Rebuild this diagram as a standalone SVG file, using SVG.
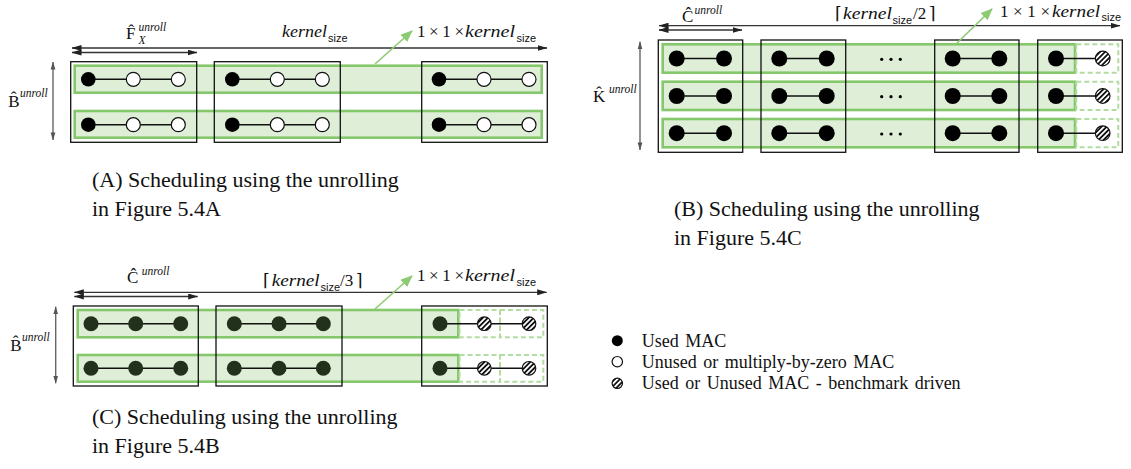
<svg xmlns="http://www.w3.org/2000/svg" width="1131" height="469" viewBox="0 0 1131 469">
<style>
.box{fill:none;stroke:#111;stroke-width:1.3}
.band{fill:#dfeed7;stroke:#85c76b;stroke-width:2.6}
.dash{fill:none;stroke:#b2dca2;stroke-width:2;stroke-dasharray:5 3}
.wire{stroke:#111;stroke-width:1.6}
.full{fill:#000}
.dark{fill:#22311b}
.empty{fill:#fff;stroke:#111;stroke-width:1.2}
.hat{fill:url(#hatch);stroke:#111;stroke-width:1.2}
.hline{stroke:#333;stroke-width:1.3;fill:none}
.vline{stroke:#666;stroke-width:1.4;fill:none}
.gline{stroke:#8ccb72;stroke-width:1.6;fill:none}
.m{font-family:"Liberation Serif","DejaVu Serif",serif;font-size:17px;fill:#111}
.mi{font-family:"Liberation Serif","DejaVu Serif",serif;font-style:italic;font-size:17px;fill:#111}
.sup{font-family:"Liberation Serif","DejaVu Serif",serif;font-style:italic;font-size:11.5px;fill:#111}
.sz{font-family:"Liberation Sans","DejaVu Sans",sans-serif;font-size:11px;fill:#111}
.br{font-family:"DejaVu Serif",serif;font-size:17px;fill:#111}
.cap{font-family:"Liberation Serif",serif;font-size:22px;fill:#111}
.leg{font-family:"Liberation Serif",serif;font-size:18px;word-spacing:2px;fill:#111}
</style>
<defs>
<pattern id="hatch" patternUnits="userSpaceOnUse" width="3.6" height="3.6" patternTransform="rotate(45)">
<rect width="3.6" height="3.6" fill="#fff"/>
<rect width="1.8" height="3.6" fill="#111"/>
</pattern>
<marker id="ak" viewBox="0 0 10 6" refX="9.5" refY="3" markerWidth="10" markerHeight="6" markerUnits="userSpaceOnUse" orient="auto-start-reverse"><path d="M0,0 L10,3 L0,6 z" fill="#222"/></marker>
<marker id="ag" viewBox="0 0 10 6" refX="9.5" refY="3" markerWidth="8" markerHeight="6" markerUnits="userSpaceOnUse" orient="auto-start-reverse"><path d="M0,0 L10,3 L0,6 z" fill="#555"/></marker>
<marker id="agr" viewBox="0 0 12 10" refX="11" refY="5" markerWidth="12" markerHeight="10" markerUnits="userSpaceOnUse" orient="auto"><path d="M0,0 L12,5 L0,10 z" fill="#8ccb72"/></marker>
</defs>

<!-- Panel A -->
<g id="panelA">
  <rect class="band" x="74.7" y="65.7" width="467" height="27"/>
  <rect class="band" x="74.7" y="111" width="467" height="26.7"/>
  <rect class="box" x="70.7" y="61.7" width="126" height="80.6"/>
  <rect class="box" x="214.3" y="61.7" width="126" height="80.6"/>
  <rect class="box" x="421.7" y="61.7" width="125.6" height="80.6"/>
  <g id="A-row1">
    <line class="wire" x1="88.3" y1="79.3" x2="178.3" y2="79.3"/>
    <line class="wire" x1="232.3" y1="79.3" x2="322.3" y2="79.3"/>
    <line class="wire" x1="439" y1="79.3" x2="529" y2="79.3"/>
    <circle class="full" cx="88.3" cy="79.3" r="7.3"/><circle class="empty" cx="133.3" cy="79.3" r="7"/><circle class="empty" cx="178.3" cy="79.3" r="7"/>
    <circle class="full" cx="232.3" cy="79.3" r="7.3"/><circle class="empty" cx="277.3" cy="79.3" r="7"/><circle class="empty" cx="322.3" cy="79.3" r="7"/>
    <circle class="full" cx="439" cy="79.3" r="7.3"/><circle class="empty" cx="484" cy="79.3" r="7"/><circle class="empty" cx="529" cy="79.3" r="7"/>
  </g>
  <g id="A-row2">
    <line class="wire" x1="88.3" y1="124.7" x2="178.3" y2="124.7"/>
    <line class="wire" x1="232.3" y1="124.7" x2="322.3" y2="124.7"/>
    <line class="wire" x1="439" y1="124.7" x2="529" y2="124.7"/>
    <circle class="full" cx="88.3" cy="124.7" r="7.3"/><circle class="empty" cx="133.3" cy="124.7" r="7"/><circle class="empty" cx="178.3" cy="124.7" r="7"/>
    <circle class="full" cx="232.3" cy="124.7" r="7.3"/><circle class="empty" cx="277.3" cy="124.7" r="7"/><circle class="empty" cx="322.3" cy="124.7" r="7"/>
    <circle class="full" cx="439" cy="124.7" r="7.3"/><circle class="empty" cx="484" cy="124.7" r="7"/><circle class="empty" cx="529" cy="124.7" r="7"/>
  </g>
  <text class="m" x="126" y="39">F̂</text>
  <text class="sup" x="138.5" y="31">unroll</text>
  <text class="sup" x="138.5" y="44">X</text>
  <text class="mi" x="282" y="37" textLength="45" lengthAdjust="spacingAndGlyphs">kernel</text>
  <text class="sz" x="328" y="42">size</text>
  <text class="m" x="417" y="37" textLength="47" lengthAdjust="spacing">1×1×</text>
  <text class="mi" x="465" y="37" textLength="50" lengthAdjust="spacingAndGlyphs">kernel</text>
  <text class="sz" x="516.5" y="42">size</text>
  <text class="m" x="8.3" y="106.7">B̂</text>
  <text class="sup" x="20" y="97">unroll</text>
</g>

<!-- Panel B -->
<g id="panelB">
  <rect class="band" x="662.7" y="44.3" width="412.3" height="28.4"/>
  <rect class="band" x="662.7" y="81.7" width="412.3" height="28.3"/>
  <rect class="band" x="662.7" y="119" width="412.3" height="28.3"/>
  <rect class="dash" x="1076.3" y="44.3" width="42" height="28.4"/>
  <rect class="dash" x="1076.3" y="81.7" width="42" height="28.3"/>
  <rect class="dash" x="1076.3" y="119" width="42" height="28.3"/>
  <rect class="box" x="658.3" y="40" width="84.4" height="112.3"/>
  <rect class="box" x="761" y="40" width="84.7" height="112.3"/>
  <rect class="box" x="934.7" y="40" width="84.3" height="112.3"/>
  <rect class="box" x="1037.7" y="40" width="84.6" height="112.3"/>
  <g id="B-rows">
    <line class="wire" x1="676.7" y1="58.5" x2="724" y2="58.5"/><line class="wire" x1="779.3" y1="58.5" x2="826.7" y2="58.5"/><line class="wire" x1="952.7" y1="58.5" x2="999.3" y2="58.5"/><line class="wire" x1="1056" y1="58.5" x2="1102.7" y2="58.5"/>
    <line class="wire" x1="676.7" y1="96" x2="724" y2="96"/><line class="wire" x1="779.3" y1="96" x2="826.7" y2="96"/><line class="wire" x1="952.7" y1="96" x2="999.3" y2="96"/><line class="wire" x1="1056" y1="96" x2="1102.7" y2="96"/>
    <line class="wire" x1="676.7" y1="133.2" x2="724" y2="133.2"/><line class="wire" x1="779.3" y1="133.2" x2="826.7" y2="133.2"/><line class="wire" x1="952.7" y1="133.2" x2="999.3" y2="133.2"/><line class="wire" x1="1056" y1="133.2" x2="1102.7" y2="133.2"/>
    <circle class="full" cx="676.7" cy="58.5" r="8"/><circle class="full" cx="724" cy="58.5" r="8"/><circle class="full" cx="779.3" cy="58.5" r="8"/><circle class="full" cx="826.7" cy="58.5" r="8"/><circle class="full" cx="952.7" cy="58.5" r="8"/><circle class="full" cx="999.3" cy="58.5" r="8"/><circle class="full" cx="1056" cy="58.5" r="8"/><circle class="hat" cx="1102.7" cy="58.5" r="7.3"/>
    <circle class="full" cx="676.7" cy="96" r="8"/><circle class="full" cx="724" cy="96" r="8"/><circle class="full" cx="779.3" cy="96" r="8"/><circle class="full" cx="826.7" cy="96" r="8"/><circle class="full" cx="952.7" cy="96" r="8"/><circle class="full" cx="999.3" cy="96" r="8"/><circle class="full" cx="1056" cy="96" r="8"/><circle class="hat" cx="1102.7" cy="96" r="7.3"/>
    <circle class="full" cx="676.7" cy="133.2" r="8"/><circle class="full" cx="724" cy="133.2" r="8"/><circle class="full" cx="779.3" cy="133.2" r="8"/><circle class="full" cx="826.7" cy="133.2" r="8"/><circle class="full" cx="952.7" cy="133.2" r="8"/><circle class="full" cx="999.3" cy="133.2" r="8"/><circle class="full" cx="1056" cy="133.2" r="8"/><circle class="hat" cx="1102.7" cy="133.2" r="7.3"/>
    <circle class="full" cx="881.7" cy="59.3" r="1.6"/><circle class="full" cx="891" cy="59.3" r="1.6"/><circle class="full" cx="900.3" cy="59.3" r="1.6"/>
    <circle class="full" cx="881.7" cy="96.7" r="1.6"/><circle class="full" cx="891" cy="96.7" r="1.6"/><circle class="full" cx="900.3" cy="96.7" r="1.6"/>
    <circle class="full" cx="881.7" cy="134" r="1.6"/><circle class="full" cx="891" cy="134" r="1.6"/><circle class="full" cx="900.3" cy="134" r="1.6"/>
  </g>
  <text class="m" x="682" y="22">Ĉ</text>
  <text class="sup" x="694.5" y="13.5">unroll</text>
  <text class="br" x="835" y="18.5">⌈</text>
  <text class="mi" x="843" y="18.5" textLength="49" lengthAdjust="spacingAndGlyphs">kernel</text>
  <text class="sz" x="892.5" y="23.5">size</text>
  <text class="m" x="913" y="18.5">/2</text>
  <text class="br" x="929" y="18.5">⌉</text>
  <text class="m" x="1000" y="16.5" textLength="50" lengthAdjust="spacing">1×1×</text>
  <text class="mi" x="1052" y="16.5" textLength="48" lengthAdjust="spacingAndGlyphs">kernel</text>
  <text class="sz" x="1101.5" y="21">size</text>
  <text class="m" x="593" y="101.7">K̂</text>
  <text class="sup" x="609" y="93">unroll</text>
</g>

<!-- Panel C -->
<g id="panelC">
  <rect class="band" x="77.7" y="310" width="380.6" height="27.3"/>
  <rect class="band" x="77.7" y="355" width="380.6" height="26.7"/>
  <rect class="dash" x="459.6" y="310" width="40.4" height="27.3"/>
  <rect class="dash" x="500" y="310" width="43.3" height="27.3"/>
  <rect class="dash" x="459.6" y="355" width="40.4" height="26.7"/>
  <rect class="dash" x="500" y="355" width="43.3" height="26.7"/>
  <rect class="box" x="73.3" y="306" width="125" height="80"/>
  <rect class="box" x="216" y="306" width="126" height="80"/>
  <rect class="box" x="421.7" y="306" width="125.6" height="80"/>
  <g id="C-rows">
    <line class="wire" x1="91" y1="323.7" x2="180.7" y2="323.7"/><line class="wire" x1="234.3" y1="323.7" x2="323.3" y2="323.7"/><line class="wire" x1="440" y1="323.7" x2="529" y2="323.7"/>
    <line class="wire" x1="91" y1="368.3" x2="180.7" y2="368.3"/><line class="wire" x1="234.3" y1="368.3" x2="323.3" y2="368.3"/><line class="wire" x1="440" y1="368.3" x2="529" y2="368.3"/>
    <circle class="dark" cx="91" cy="323.7" r="7.5"/><circle class="dark" cx="135.7" cy="323.7" r="7.5"/><circle class="dark" cx="180.7" cy="323.7" r="7.5"/>
    <circle class="dark" cx="234.3" cy="323.7" r="7.5"/><circle class="dark" cx="279" cy="323.7" r="7.5"/><circle class="dark" cx="323.3" cy="323.7" r="7.5"/>
    <circle class="dark" cx="440" cy="323.7" r="7.5"/><circle class="hat" cx="484.3" cy="323.7" r="6.8"/><circle class="hat" cx="529" cy="323.7" r="6.8"/>
    <circle class="dark" cx="91" cy="368.3" r="7.5"/><circle class="dark" cx="135.7" cy="368.3" r="7.5"/><circle class="dark" cx="180.7" cy="368.3" r="7.5"/>
    <circle class="dark" cx="234.3" cy="368.3" r="7.5"/><circle class="dark" cx="279" cy="368.3" r="7.5"/><circle class="dark" cx="323.3" cy="368.3" r="7.5"/>
    <circle class="dark" cx="440" cy="368.3" r="7.5"/><circle class="hat" cx="484.3" cy="368.3" r="6.8"/><circle class="hat" cx="529" cy="368.3" r="6.8"/>
  </g>
  <text class="m" x="127" y="283">Ĉ</text>
  <text class="sup" x="141.7" y="275">unroll</text>
  <text class="br" x="263" y="286">⌈</text>
  <text class="mi" x="271.7" y="286" textLength="48" lengthAdjust="spacingAndGlyphs">kernel</text>
  <text class="sz" x="320.5" y="291">size</text>
  <text class="m" x="340" y="286">/3</text>
  <text class="br" x="356" y="286">⌉</text>
  <text class="m" x="417" y="281" textLength="47" lengthAdjust="spacing">1×1×</text>
  <text class="mi" x="465" y="281" textLength="50" lengthAdjust="spacingAndGlyphs">kernel</text>
  <text class="sz" x="516.5" y="286">size</text>
  <text class="m" x="10.3" y="350.7">B̂</text>
  <text class="sup" x="22" y="341">unroll</text>
</g>

<!-- Connectors / dimension arrows -->
<g id="connectors">
  <line class="hline" x1="72" y1="48" x2="547" y2="48" marker-start="url(#ak)" marker-end="url(#ak)"/>
  <line class="hline" x1="72" y1="52.5" x2="197" y2="52.5" marker-start="url(#ak)" marker-end="url(#ak)"/>
  <line class="vline" x1="53" y1="62" x2="53" y2="140" marker-start="url(#ag)" marker-end="url(#ag)"/>
  <line class="gline" x1="375" y1="64" x2="412" y2="31" marker-end="url(#agr)"/>

  <line class="hline" x1="659" y1="25.7" x2="1120" y2="25.7" marker-start="url(#ak)" marker-end="url(#ak)"/>
  <line class="hline" x1="659" y1="30" x2="742" y2="30" marker-start="url(#ak)" marker-end="url(#ak)"/>
  <line class="vline" x1="640" y1="41.7" x2="640" y2="150" marker-start="url(#ag)" marker-end="url(#ag)"/>
  <line class="gline" x1="955" y1="45" x2="992" y2="9" marker-end="url(#agr)"/>

  <line class="hline" x1="74.3" y1="292.3" x2="546.7" y2="292.3" marker-start="url(#ak)" marker-end="url(#ak)"/>
  <line class="hline" x1="74.3" y1="296.5" x2="197.7" y2="296.5" marker-start="url(#ak)" marker-end="url(#ak)"/>
  <line class="vline" x1="55.7" y1="306.7" x2="55.7" y2="383.3" marker-start="url(#ag)" marker-end="url(#ag)"/>
  <line class="gline" x1="375" y1="309" x2="412" y2="276" marker-end="url(#agr)"/>
</g>

<!-- Captions -->
<g id="captions">
  <text class="cap" x="92" y="187">(A) Scheduling using the unrolling</text>
  <text class="cap" x="92" y="216">in Figure 5.4A</text>
  <text class="cap" x="674" y="216">(B) Scheduling using the unrolling</text>
  <text class="cap" x="674" y="245">in Figure 5.4C</text>
  <text class="cap" x="92" y="424">(C) Scheduling using the unrolling</text>
  <text class="cap" x="92" y="453">in Figure 5.4B</text>
</g>

<!-- Legend -->
<g id="legend">
  <circle class="full" cx="617.3" cy="340.7" r="5.5"/>
  <text class="leg" x="641.7" y="346.5">Used MAC</text>
  <circle class="empty" cx="617.3" cy="361.7" r="5.2"/>
  <text class="leg" x="641.7" y="367.5">Unused or multiply-by-zero MAC</text>
  <circle class="hat" cx="617.3" cy="383.3" r="5.2"/>
  <text class="leg" x="641.7" y="389">Used or Unused MAC - benchmark driven</text>
</g>
</svg>
